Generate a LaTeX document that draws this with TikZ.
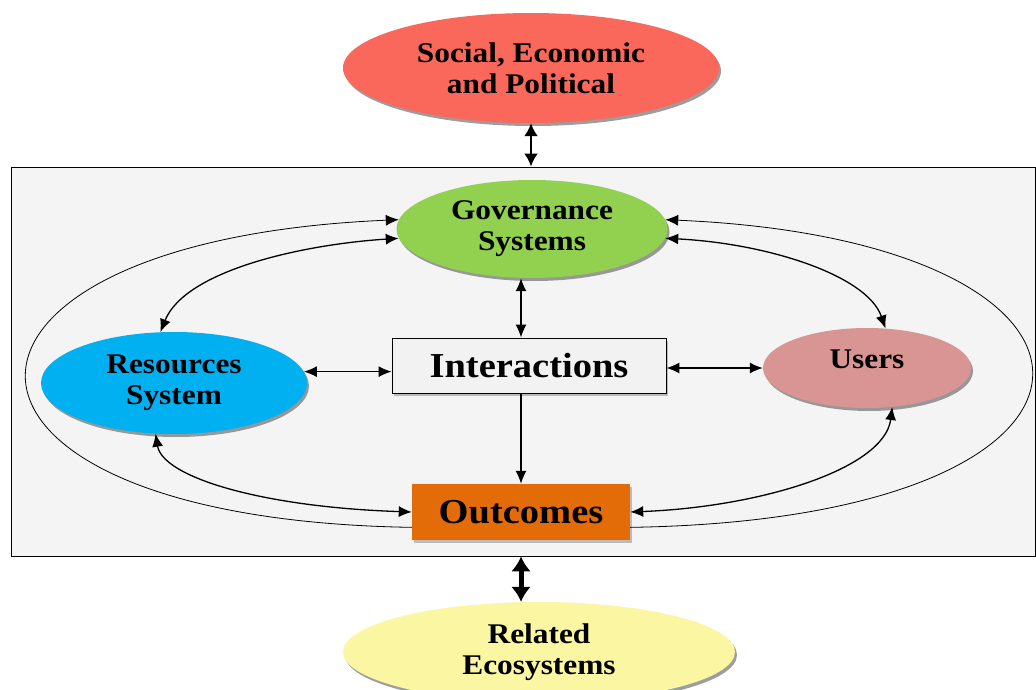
\documentclass[tikz,border=0pt]{standalone}
\usepackage{fontspec}
\setmainfont[FakeStretch=1.1]{Liberation Serif}
\usetikzlibrary{shapes.geometric, shadows, arrows.meta}
\definecolor{sepred}{RGB}{249,104,90}
\definecolor{govgreen}{RGB}{146,208,80}
\definecolor{resblue}{RGB}{0,176,240}
\definecolor{userpink}{RGB}{217,149,148}
\definecolor{outorange}{RGB}{227,108,9}
\definecolor{ecoyellow}{RGB}{250,246,162}
\definecolor{framegray}{RGB}{244,244,244}
\tikzset{blob/.style={ellipse, inner sep=0pt, align=center, font=\bfseries\fontsize{28.5}{31}\selectfont,
    drop shadow={shadow xshift=2pt, shadow yshift=-3pt, opacity=0.55, fill=black!70}}}
\tikzset{boxed/.style={rectangle, inner sep=0pt, font=\bfseries\fontsize{35}{36}\selectfont,
    drop shadow={shadow xshift=2pt, shadow yshift=-3pt, opacity=0.4, fill=black!60}}}
\tikzset{link/.style={{Latex[length=13pt,width=11pt]}-{Latex[length=13pt,width=11pt]}, line width=1.3pt}}
\tikzset{loop/.style={-{Latex[length=13pt,width=11pt]}, line width=0.8pt}}

\begin{document}
\begin{tikzpicture}[x=1pt, y=-1pt]
    \useasboundingbox (0,0) rectangle (1036,690);
    \clip (0,0) rectangle (1036,690);
    \node[draw=black, line width=0.9pt, fill=framegray, minimum width=1024pt, minimum height=389pt] (frame) at (523,361.5) {};
    \node[blob, fill=sepred, minimum width=376pt, minimum height=110pt] (sep) at (531,68) {Social, Economic\\and Political};
    \node[blob, fill=govgreen, minimum width=271pt, minimum height=98pt] (gov) at (532,229) {Governance\\Systems};
    \node[blob, fill=resblue, minimum width=266pt, minimum height=102pt] (res) at (174,383) {Resources\\System};
    \node[blob, fill=userpink, minimum width=208pt, minimum height=80pt] (users) at (867,368) {\raisebox{18pt}{Users}};
    \node[boxed, draw=black, line width=0.9pt, fill=white!95!black, minimum width=274pt, minimum height=55pt] (int) at (529,365.5) {Interactions};
    \node[boxed, fill=outorange, minimum width=218pt, minimum height=56pt] (out) at (521,512) {Outcomes};
    \node[blob, fill=ecoyellow, minimum width=392pt, minimum height=100pt] (eco) at (539,652) {Related\\Ecosystems};

    \draw[{Latex[length=13pt,width=14pt]}-{Latex[length=13pt,width=14pt]}, line width=2.6pt] (sep.south) -- (sep.south |- frame.north);
    \draw[{Latex[length=15pt,width=20pt]}-{Latex[length=15pt,width=20pt]}, line width=5pt] (frame.south -| out.north) -- (eco.north -| out.north);

    \draw[link] (gov.south -| out.north) -- (int.north -| out.north);
    \draw[link, -{Latex[length=13pt,width=11pt]}] (int.south -| out.north) -- (out.north);
    \draw[link] (res.5) -- (int.west |- res.5);
    \draw[link] (int.east |- users.west) -- (users.west);

    \draw[link] (gov.184) .. controls +(-95,6) and +(25,-62) .. (res.105);
    \draw[link] (gov.356) .. controls +(102,5) and +(-18,-53) .. (users.65);
    \draw[link] (res.250) .. controls +(7,43) and +(-152,-5) .. (out.west);
    \draw[link] (users.303) .. controls +(-8,62) and +(130,-5) .. (out.east);

    \draw[loop] (out.188) .. controls +(-512,-8) and +(-497,21) .. (gov.176);
    \draw[loop] (out.352) .. controls +(530,-8) and +(492,21) .. (gov.4);
\end{tikzpicture}
\end{document}
